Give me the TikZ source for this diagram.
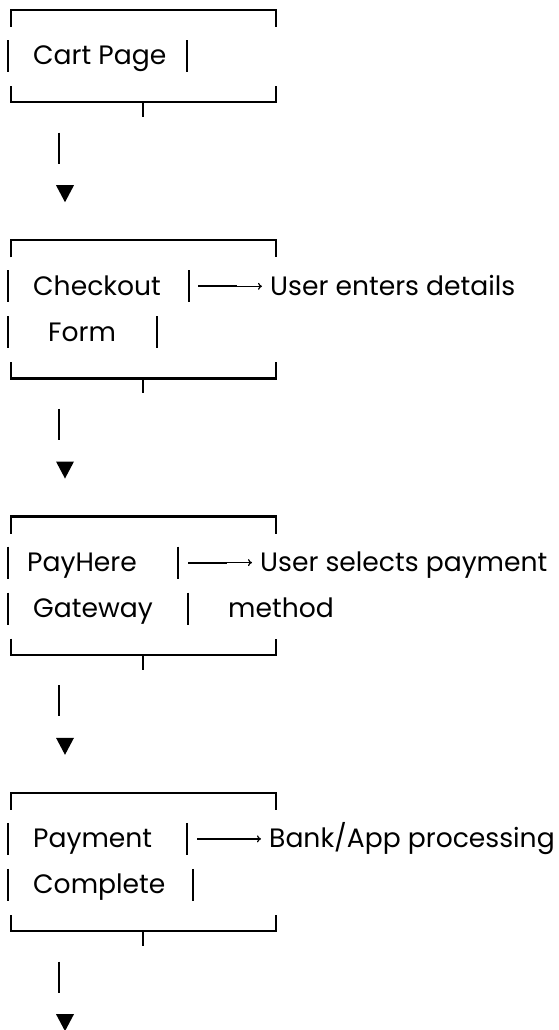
\documentclass[tikz,border=0pt]{standalone}
\usepackage{fontspec}
\newfontfamily\poppins{Poppins}
\usetikzlibrary{arrows.meta}

\begin{document}
\begin{tikzpicture}[x=1pt,y=-1pt,
  rule/.style={line width=2.2pt},
  pointer/.style={line width=1.2pt, -{To[length=4pt,width=7pt]}, shorten >=8pt},
  lbl/.style={anchor=base west, inner sep=0pt, font=\fontsize{26.6}{30}\poppins}]
  \useasboundingbox (0,0) rectangle (559,1030);
  \def\rowh{46.05}
  % frames, stems and heads
  \foreach \k/\n in {0/1,5/2,11/2,17/2} {
    \pgfmathsetmacro\ya{10+\rowh*\k}
    \pgfmathsetmacro\yb{10+\rowh*(\k+\n+1)}
    \pgfmathsetmacro\yc{\yb+\rowh}
    \pgfmathsetmacro\yd{\yb+2*\rowh}
    \draw[rule] (11,\ya+17) -- (11,\ya) -- (276,\ya) -- (276,\ya+17);
    \draw[rule] (11,\yb-16) -- (11,\yb) -- (276,\yb) -- (276,\yb-16);
    \draw[rule] (143,\yb) -- (143,\yb+15);
    \draw[rule] (59,\yc-15.5) -- (59,\yc+15.5);
    \fill (56,\yd-9) -- (74,\yd-9) -- (65,\yd+8) -- cycle;
  }
  % side bars of the text rows
  \foreach \k/\x in {1/187,6/189,7/157,12/178,13/188,18/187,19/193} {
    \pgfmathsetmacro\yr{10+\rowh*\k}
    \draw[rule] (8,\yr-16) -- (8,\yr+16);
    \draw[rule] (\x,\yr-16) -- (\x,\yr+16);
  }
  % labels
  \node[lbl] (cart)     at (33,10+\rowh*1+8.7)  {Cart Page};
  \node[lbl] (checkout) at (33,10+\rowh*6+8.7)  {Checkout};
  \node[lbl] (form)     at (48,10+\rowh*7+8.7)  {Form};
  \node[lbl] (payhere)  at (27,10+\rowh*12+8.7) {PayHere};
  \node[lbl] (gateway)  at (33,10+\rowh*13+8.7) {Gateway};
  \node[lbl] (payment)  at (33,10+\rowh*18+8.7) {Payment};
  \node[lbl] (complete) at (33,10+\rowh*19+8.7) {Complete};
  \node[lbl] (details)  at (270,10+\rowh*6+8.7)  {User enters details};
  \node[lbl] (selects)  at (260,10+\rowh*12+8.7) {User selects payment};
  \node[lbl] (method)   at (228,10+\rowh*13+8.7) {method};
  \node[lbl] (bank)     at (269,10+\rowh*18+8.7) {Bank/App processing};
  % side arrows
  \foreach \k/\x/\t in {6/198/details,12/188/selects,18/197/bank} {
    \pgfmathsetmacro\yr{10+\rowh*\k}
    \coordinate (dash) at (\x,\yr);
    \coordinate (tip) at (\x+39,\yr);
    \draw[rule] (dash) -- (tip);
    \draw[pointer] (tip) -- (\t.base west |- tip);
  }
\end{tikzpicture}
\end{document}
